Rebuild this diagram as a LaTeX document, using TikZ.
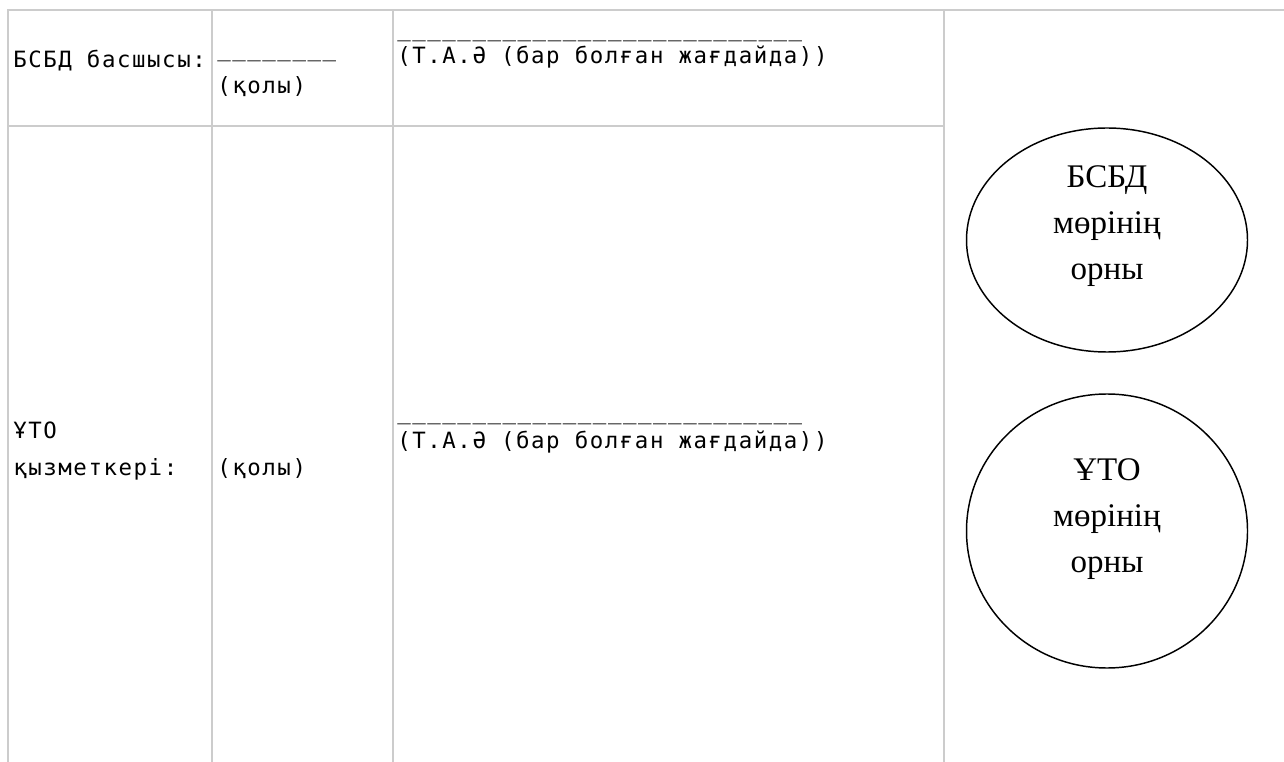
\documentclass[tikz,border=0pt]{standalone}
\usepackage{fontspec}
\usetikzlibrary{shapes.geometric}

\newfontfamily\cellfont[LetterSpace=7]{DejaVu Sans Mono}
\newfontfamily\stampfont{Liberation Serif}
\definecolor{gridgray}{HTML}{CCCCCC}

\tikzstyle{grid} = [draw=gridgray, line width=1.5pt]
\tikzstyle{cell} = [anchor=base west, inner sep=0pt, align=left, font=\cellfont\fontsize{16.8}{27.75}\selectfont]
\tikzstyle{stamp} = [ellipse, draw, line width=1.1pt, inner sep=0pt, minimum width=210.75pt]
\tikzstyle{stamptext} = [anchor=base, inner sep=0pt, align=center, font=\stampfont\fontsize{24.75}{34.5}\selectfont]

\begin{document}
\begin{tikzpicture}[x=0.75pt, y=-0.75pt]
    \useasboundingbox (0,0) rectangle (1284,762);

    % Table lines
    \draw [grid] (8,762) -- (8,10) -- (1284,10);
    \draw [grid] (212,10) -- (212,762);
    \draw [grid] (393,10) -- (393,762);
    \draw [grid] (944,10) -- (944,762);
    \draw [grid] (8,126) -- (944,126);

    % Nodes (anchored at the baseline of their last line)
    \node (head) [cell] at (13,68) {БСБД басшысы:};
    \node (headsign) [cell] at (217,94) {\_\_\_\_\_\_\_\_\\(қолы)};
    \node (headname) [cell] at (397,64) {\_\_\_\_\_\_\_\_\_\_\_\_\_\_\_\_\_\_\_\_\_\_\_\_\_\_\_\\[-7pt](Т.А.Ә (бар болған жағдайда))};
    \node (staff) [cell] at (13,475) {ҰТО\\қызметкері:};
    \node (staffsign) [cell] at (217,475) {(қолы)};
    \node (staffname) [cell] at (397,449) {\_\_\_\_\_\_\_\_\_\_\_\_\_\_\_\_\_\_\_\_\_\_\_\_\_\_\_\\[-6pt](Т.А.Ә (бар болған жағдайда))};

    % Stamps
    \node (headstamp) [stamp, minimum height=168pt] at (1107,240) {};
    \node (staffstamp) [stamp, minimum height=205.5pt] at (1107,531) {};
    \node (headseal) [stamptext] at (1107,280) {БСБД\\мөрінің\\орны};
    \node (staffseal) [stamptext] at (1107,572) {ҰТО\\мөрінің\\орны};

\end{tikzpicture}
\end{document}
